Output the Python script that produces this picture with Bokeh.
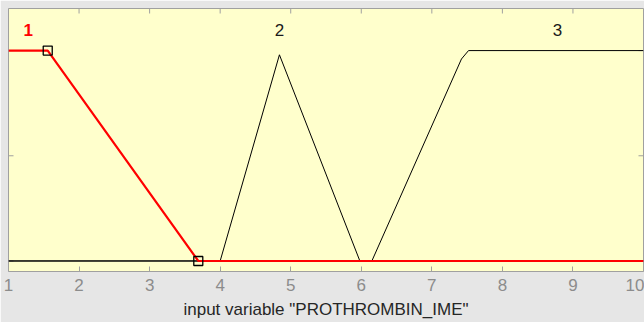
import math
from bokeh.plotting import figure
from bokeh.models import FixedTicker, Range1d
from bokeh.core.properties import value
from bokeh.embed import file_html
from bokeh.resources import INLINE

# membership function 1 (selected, red)
mf1_x = [1.0, 1.556, 3.69, 10.0]
mf1_y = [1.0, 1.0, 0.0, 0.0]
# selected vertices (squares)
sel_x = [1.556, 3.69]
sel_y = [1.0, 0.0]
# membership function 2 (triangle)
mf2_x = [1.0, 4.0, 4.84, 5.98, 10.0]
mf2_y = [0.0, 0.0, 0.98, 0.0, 0.0]
# membership function 3 (rising shoulder)
mf3_x = [1.0, 6.15, 7.42, 7.52, 10.0]
mf3_y = [0.0, 0.0, 0.96, 1.0, 1.0]
# MF labels
mf_names = ["1", "2", "3"]
mf_label_x = [1.28, 4.84, 8.78]
mf_label_y = [1.10, 1.10, 1.10]
x_ticks = [1, 2, 3, 4, 5, 6, 7, 8, 9, 10]
y_ticks = [0, 0.5, 1]
x_min, x_max = 1, 10
y_min, y_max = -0.05, 1.2
axis_title = 'input variable "PROTHROMBIN_IME"'

FONT = "Liberation Sans"
GRID = "#a0a0a0"

p = figure(width=644, height=322, output_backend="svg", toolbar_location=None,
           x_range=Range1d(x_min, x_max), y_range=Range1d(y_min, y_max),
           min_border_left=8, min_border_right=1, min_border_top=8, min_border_bottom=51)
p.background_fill_color = "#ffffcc"
p.border_fill_color = "#e6e6e6"
p.outline_line_color = GRID
p.outline_line_width = 1
p.grid.visible = False
p.yaxis.visible = False

# bottom axis
ax = p.xaxis[0]
ax.ticker = FixedTicker(ticks=x_ticks)
ax.major_tick_in = 5
ax.major_tick_out = 0
ax.minor_tick_line_color = None
ax.axis_line_color = None
ax.major_tick_line_color = GRID
ax.major_label_text_color = "#8c8c8c"
ax.major_label_text_font = FONT
ax.major_label_text_font_size = "17px"
ax.major_label_standoff = 7
ax.axis_label = axis_title
ax.axis_label_text_font = FONT
ax.axis_label_text_font_size = "17px"
ax.axis_label_text_font_style = "normal"
ax.axis_label_text_color = "#262626"
ax.axis_label_standoff = 6

# inward ticks on the top, left and right frame edges
p.ray(x=x_ticks, y=[y_max] * len(x_ticks), length=5, length_units="screen",
      angle=-math.pi / 2, line_color=GRID, line_width=1)
p.ray(x=[x_min] * len(y_ticks), y=y_ticks, length=5, length_units="screen",
      angle=0, line_color=GRID, line_width=1)
p.ray(x=[x_max] * len(y_ticks), y=y_ticks, length=5, length_units="screen",
      angle=math.pi, line_color=GRID, line_width=1)

# lines
p.line(mf2_x, mf2_y, line_color="black", line_width=1)
p.line(mf3_x, mf3_y, line_color="black", line_width=1)
p.line(mf1_x, mf1_y, line_color="#ff0000", line_width=2.2)
p.scatter(sel_x, sel_y, marker="square", size=9, fill_color=None,
          line_color="black", line_width=1.3)

# labels
p.text(x=mf_label_x[1:], y=mf_label_y[1:], text=mf_names[1:], text_align="center",
       text_baseline="middle", text_font=value(FONT), text_font_size="17px",
       text_color="#1a1a1a")
p.text(x=mf_label_x[:1], y=mf_label_y[:1], text=mf_names[:1], text_align="center",
       text_baseline="middle", text_font=value(FONT), text_font_size="17px",
       text_font_style="bold", text_color="#ff0000")

open("out.html", "w").write(file_html(p, INLINE))
